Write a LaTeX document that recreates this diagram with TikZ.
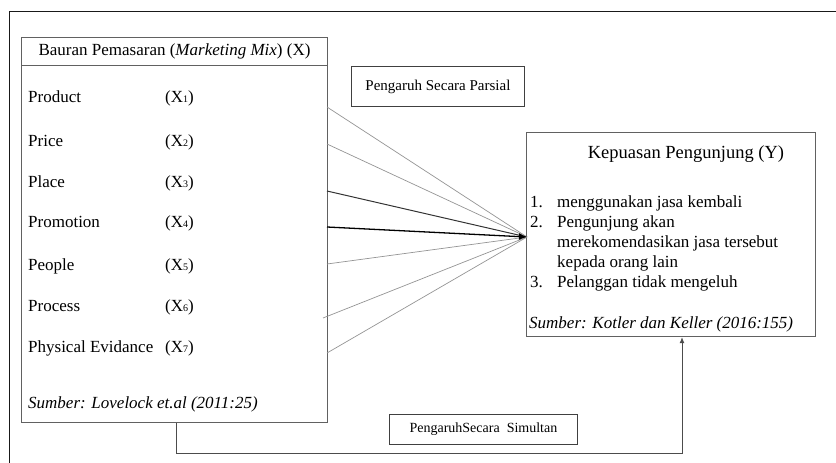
\documentclass[tikz,border=0pt]{standalone}
\usepackage{fontspec}
\setmainfont{Liberation Serif}
\usetikzlibrary{arrows.meta}
\newcommand{\sbx}[1]{\raisebox{-0.3pt}{\fontsize{10}{10}\selectfont #1}}
\begin{document}
\begin{tikzpicture}[x=1pt,y=-1pt,
  boxline/.style={draw=black!62, line width=1.1pt},
  frameline/.style={draw=black!90, line width=0.9pt},
  txt/.style={inner sep=0pt, anchor=base west, font=\fontsize{17}{20}\selectfont},
  thinray/.style={draw=black!42, line width=0.7pt},
  midray/.style={draw=black!80, line width=1pt},
  boldray/.style={draw=black, line width=1.3pt},
  tip/.style={-{Latex[length=8pt,width=7pt]}}]
\useasboundingbox (0,0) rectangle (836,463);
% outer frame
\draw[frameline] (9,463) -- (9,11) -- (836,11);
% left box
\node[boxline, anchor=north west, minimum width=306pt, minimum height=385pt, inner sep=0pt] (xbox) at (21,37) {};
\node[boxline, anchor=north west, minimum width=306pt, minimum height=28pt, inner sep=0pt,
  font=\fontsize{17}{20}\selectfont] (xhead) at (21,37) {Bauran Pemasaran (\textit{Marketing Mix}) (X)};
\node[txt] (l1) at (28,102) {Product};
\node[txt] (l2) at (28,146) {Price};
\node[txt] (l3) at (28,187) {Place};
\node[txt] (l4) at (28,227) {Promotion};
\node[txt] (l5) at (28,270) {People};
\node[txt] (l6) at (28,311) {Process};
\node[txt] (l7) at (28,352) {Physical Evidance};
\node[txt] (v1) at (165,102) {(X\sbx{1})};
\node[txt] (v2) at (165,146) {(X\sbx{2})};
\node[txt] (v3) at (165,187) {(X\sbx{3})};
\node[txt] (v4) at (165,227) {(X\sbx{4})};
\node[txt] (v5) at (165,270) {(X\sbx{5})};
\node[txt] (v6) at (165,311) {(X\sbx{6})};
\node[txt] (v7) at (165,352) {(X\sbx{7})};
\node[txt] (xsrc) at (28,408) {\textit{Sumber: Lovelock et.al (2011:25)}};
% partial box
\node[draw=black!75, line width=0.9pt, anchor=north west, minimum width=173pt, minimum height=40pt, inner sep=0pt,
  font=\fontsize{15}{18}\selectfont] (parsial) at (351,66) {Pengaruh Secara Parsial};
% right box
\node[boxline, anchor=north west, minimum width=289pt, minimum height=204pt, inner sep=0pt] (ybox) at (526,132) {};
\node[inner sep=0pt, anchor=base, font=\fontsize{18.5}{22}\selectfont] (ytitle) at (686,158) {Kepuasan Pengunjung (Y)};
\node[txt] (n1) at (530,207) {1.};
\node[txt] (n2) at (530,227) {2.};
\node[txt] (n3) at (530,287) {3.};
\node[txt] (i1) at (557,207) {menggunakan jasa kembali};
\node[txt] (i2a) at (557,227) {Pengunjung akan};
\node[txt] (i2b) at (557,247) {merekomendasikan jasa tersebut};
\node[txt] (i2c) at (557,267) {kepada orang lain};
\node[txt] (i3) at (557,287) {Pelanggan tidak mengeluh};
\node[txt] (ysrc) at (529,328) {\textit{Sumber: Kotler dan Keller (2016:155)}};
% simultaneous box
\node[draw=black!75, line width=0.9pt, anchor=north west, minimum width=188pt, minimum height=30pt, inner sep=0pt,
  font=\fontsize{14}{17}\selectfont] (simultan) at (389,414) {PengaruhSecara\ \ Simultan};
% partial rays
\coordinate (hub) at (527,237);
\coordinate (s1) at (327,107);
\coordinate (s2) at (327,144);
\coordinate (s3) at (327,191);
\coordinate (s4) at (327,227);
\coordinate (s5) at (327,264);
\coordinate (s6) at (323,318);
\coordinate (s7) at (327,353);
\draw[thinray] (s1) -- (hub);
\draw[thinray] (s2) -- (hub);
\draw[midray] (s3) -- (hub);
\draw[thinray] (s5) -- (hub);
\draw[thinray] (s6) -- (hub);
\draw[thinray] (s7) -- (hub);
\draw[boldray, tip] (s4) -- (hub);
% simultaneous connector
\coordinate (b1) at (176,422);
\coordinate (b2) at (682,453);
\draw[draw=black!70, line width=1pt, -{Latex[length=6pt,width=5pt]}] (xbox.south -| b1) |- (b2) -- (ybox.south -| b2);
\end{tikzpicture}
\end{document}
